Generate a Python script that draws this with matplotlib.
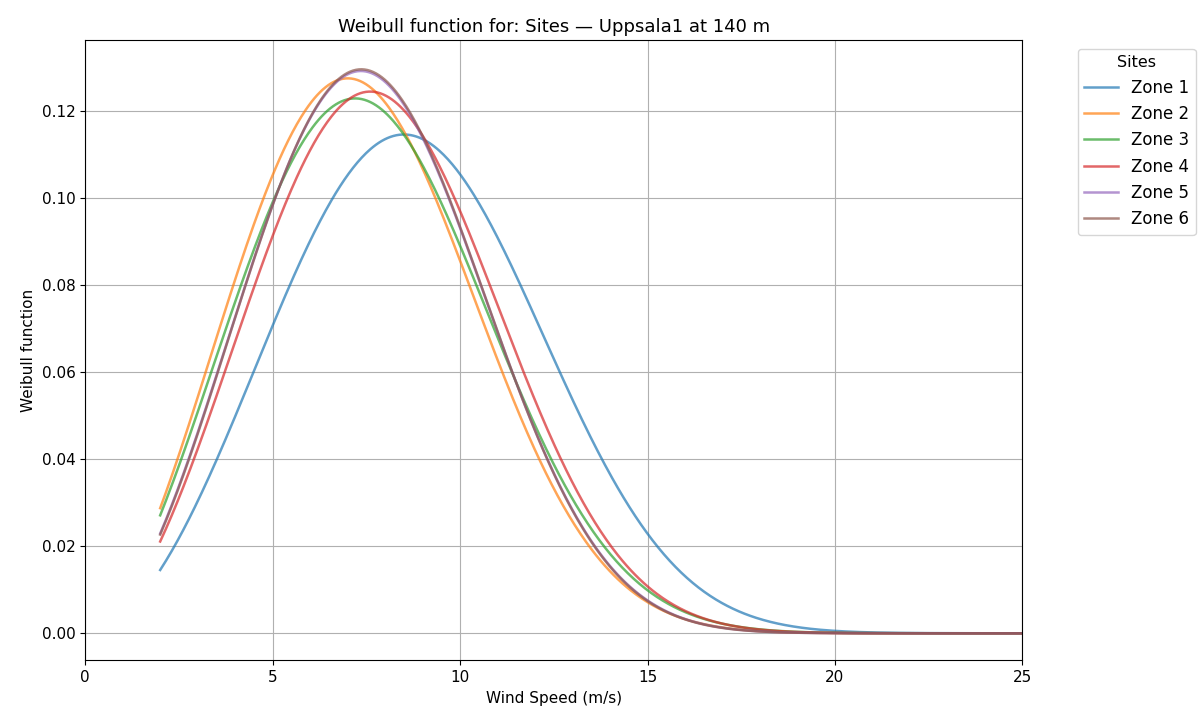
import matplotlib
matplotlib.use("Agg")
import matplotlib.pyplot as plt
import numpy as np

# Weibull parameters (peak position / height)
zones = ["Zone 1", "Zone 2", "Zone 3", "Zone 4", "Zone 5", "Zone 6"]
shape_k = [2.87, 2.67, 2.65, 2.80, 2.81, 2.82]
scale_c = [9.87, 8.35, 8.61, 8.90, 8.60, 8.60]
colors = ["#1f77b4", "#ff7f0e", "#2ca02c", "#d62728", "#9467bd", "#8c564b"]

v_min, v_max = 2, 25
wind = np.linspace(v_min, v_max, 600)


def weibull(v, k, c):
    return (k / c) * (v / c) ** (k - 1) * np.exp(-(v / c) ** k)


fig, ax = plt.subplots(figsize=(12, 7.2), dpi=100)
for name, k, c, col in zip(zones, shape_k, scale_c, colors):
    ax.plot(wind, weibull(wind, k, c), label=name, color=col, alpha=0.7, lw=1.8)

ax.set_xlim(0, 25)
ax.set_ylim(-0.0062, 0.1363)
ax.tick_params(labelsize=11)
ax.set_xlabel("Wind Speed (m/s)", fontsize=11)
ax.set_ylabel("Weibull function", fontsize=11)
ax.set_title("Weibull function for: Sites — Uppsala1 at 140 m", fontsize=13)
ax.grid(True)
ax.legend(title="Sites", loc="upper left", bbox_to_anchor=(1.05, 1), fontsize=12, title_fontsize=11.5)

fig.subplots_adjust(left=0.071, right=0.852, top=0.944, bottom=0.083)
fig.savefig("out.png")
